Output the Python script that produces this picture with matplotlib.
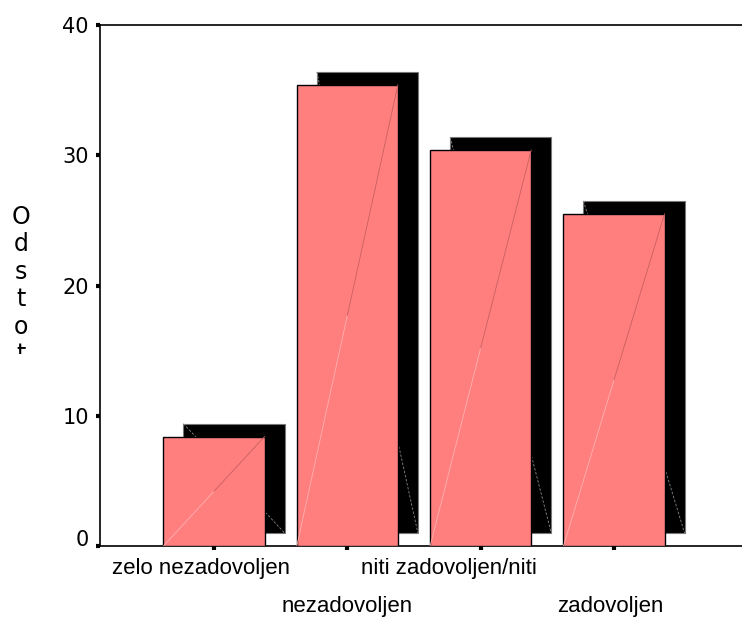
import matplotlib
matplotlib.use("Agg")
import matplotlib.pyplot as plt
import matplotlib.transforms as mtransforms
from matplotlib.patches import Rectangle
import numpy as np

# Satisfaction categories and percentages
categories = ["zelo nezadovoljen", "nezadovoljen", "niti zadovoljen/niti", "zadovoljen"]
values = [8.4, 35.4, 30.4, 25.5]
yticks = [0, 10, 20, 30, 40]
ylabel = "Odstotek"

W, H, DPI = 742, 617, 100
fig = plt.figure(figsize=(W / DPI, H / DPI), dpi=DPI)
ax = fig.add_axes([100 / W, 71 / H, 1 - 100 / W + 0.01, 521 / H])

x = np.arange(len(categories))
bw = 0.758          # bar width (data units)
dx, dy = 0.15, 1.0  # offset of the drop shadow

face = "#ff7f7f"

# drop shadows
ax.bar(x + dx, values, width=bw, bottom=dy, color="black",
       edgecolor="#777777", linewidth=0.8, zorder=2)
# shadow diagonals (top-left to bottom-right)
for xi, v in zip(x, values):
    ax.plot([xi - bw / 2 + dx, xi + bw / 2 + dx], [v + dy, dy],
            color="#888888", lw=0.6, ls=(0, (3, 2)), zorder=2.5)

# front faces
ax.bar(x, values, width=bw, color=face, edgecolor="black",
       linewidth=1.0, zorder=3)
# face diagonals (bottom-left to top-right)
for xi, v in zip(x, values):
    x0, x1 = xi - bw / 2, xi + bw / 2
    xm = (x0 + x1) / 2
    ax.plot([x0, xm], [0, v / 2], color="#ffb0b0", lw=0.6, zorder=3.5)
    ax.plot([xm, x1], [v / 2, v], color="#c86060", lw=0.6, zorder=3.5)

ax.set_xlim(-0.855, 3.96 + 0.01 * W / 133.3)
ax.set_ylim(0, 40)

ax.spines["right"].set_visible(False)
for s in ["left", "bottom", "top"]:
    ax.spines[s].set_linewidth(1.2)

ax.set_yticks(yticks)
ax.set_yticklabels([str(t) for t in yticks], fontsize=15, family="DejaVu Sans")
ax.tick_params(axis="y", direction="out", length=3, width=3, pad=5, color="black")
# lift the zero label slightly
lab0 = ax.get_yticklabels()[0]
lab0.set_transform(lab0.get_transform() +
                   mtransforms.ScaledTranslation(0, 8 / DPI, fig.dpi_scale_trans))

ax.set_xticks(x)
ax.set_xticklabels([])
ax.tick_params(axis="x", direction="out", length=3, width=3, color="black")

# staggered category labels
trans = ax.get_xaxis_transform()
row_y = [-0.043, -0.116]
shift = [-0.1, 0.0, -0.24, -0.03]
for i, lab in enumerate(categories):
    ax.text(x[i] + shift[i], row_y[i % 2], lab, transform=trans,
            ha="center", va="center", fontsize=16, family="Liberation Sans")

# vertical, letter-stacked axis title (clipped at the bottom)
clip = Rectangle((0, (H - 354) / H), 0.1, 0.6, transform=fig.transFigure)
for k, ch in enumerate(ylabel):
    yc = 217 + 27.4 * k
    if yc > 380:
        break
    t = fig.text(21 / W, 1 - yc / H, ch, ha="center", va="center",
                 fontsize=17, family="DejaVu Sans")
    t.set_clip_path(clip)

fig.savefig("out.png", dpi=DPI)
